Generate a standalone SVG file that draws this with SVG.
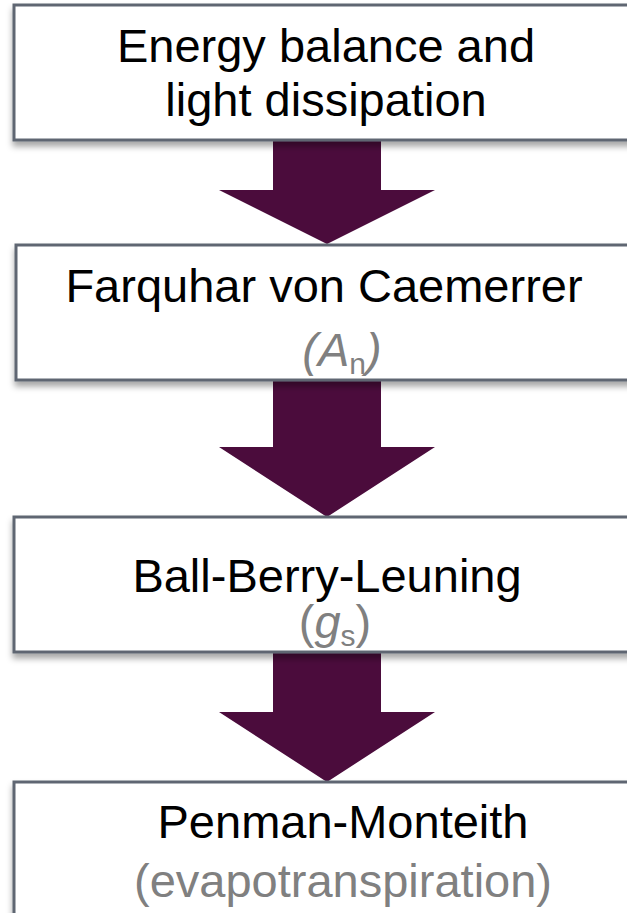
<svg xmlns="http://www.w3.org/2000/svg" width="627" height="913" viewBox="0 0 627 913">
<defs>
<filter id="sh" x="-5%" y="-10%" width="110%" height="130%">
<feDropShadow dx="0" dy="5" stdDeviation="3" flood-color="#000" flood-opacity="0.35"/>
</filter>
<style>
.box{fill:#fff;stroke:#5f6672;stroke-width:3;filter:url(#sh)}
.t{font-family:"Liberation Sans",Arial,sans-serif;font-size:47px;fill:#000;text-anchor:middle}
.s{font-family:"Liberation Sans",Arial,sans-serif;font-size:47px;fill:#808080;text-anchor:middle}
.arr{fill:#4b0c3c}
</style>
</defs>
<g id="connectors">
<polygon class="arr" points="273,140 381,140 381,190 435,190 327,244 219,190 273,190"/>
<polygon class="arr" points="273,380 381,380 381,447 435,447 327,517 219,447 273,447"/>
<polygon class="arr" points="273,652 381,652 381,712 435,712 327,782 219,712 273,712"/>
</g>
<g id="node1">
<rect class="box" x="14" y="5" width="630" height="135"/>
<text class="t" x="326" y="62">Energy balance and</text>
<text class="t" x="326" y="116">light dissipation</text>
</g>
<g id="node2">
<rect class="box" x="16" y="245" width="630" height="135"/>
<text class="t" x="324" y="302">Farquhar von Caemerrer</text>
<text class="s" x="342" y="366"><tspan font-style="italic">(A</tspan><tspan font-size="30" dy="8">n</tspan><tspan font-style="italic" dy="-8">)</tspan></text>
</g>
<g id="node3">
<rect class="box" x="14" y="517" width="630" height="135"/>
<text class="t" x="327" y="592">Ball-Berry-Leuning</text>
<text class="s" x="335" y="638">(<tspan font-style="italic">g</tspan><tspan font-size="30" dy="8">s</tspan><tspan dy="-8">)</tspan></text>
</g>
<g id="node4">
<rect class="box" x="14" y="782" width="630" height="150"/>
<text class="t" x="343" y="838">Penman-Monteith</text>
<text class="s" x="343" y="897">(evapotranspiration)</text>
</g>
</svg>
